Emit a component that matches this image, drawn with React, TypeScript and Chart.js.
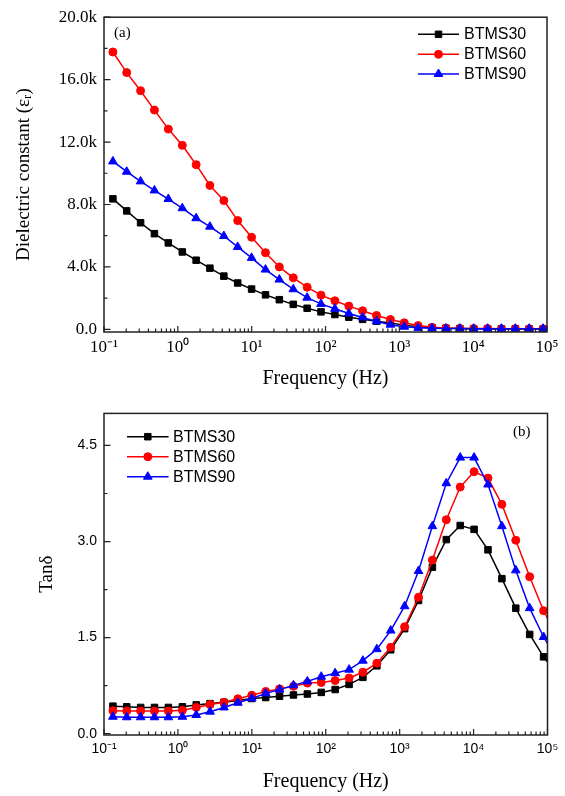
import React, { useEffect, useRef } from 'react';
import { Chart, registerables } from 'chart.js';
import { drawPoint } from 'chart.js/helpers';

Chart.register(...registerables);

// ---------- data ----------
const frequencies = [
  0.132, 0.203, 0.313, 0.482, 0.743, 1.15, 1.77, 2.72, 4.2, 6.47, 9.98, 15.4, 23.7, 36.6, 56.4, 86.9,
  134, 207, 318, 491, 757, 1167, 1799, 2773, 4276, 6592, 10160, 15670, 24150, 37240, 57410, 88510, 136500,
];

const epsBTMS30 = [
  8360, 7590, 6830, 6130, 5540, 4960, 4430, 3920, 3410, 2970, 2580, 2210, 1900, 1600, 1350, 1120,
  950, 780, 640, 520, 400, 270, 160, 100, 70, 50, 40, 40, 30, 30, 30, 30, 30,
];
const epsBTMS60 = [
  17770, 16450, 15290, 14050, 12830, 11790, 10550, 9220, 8250, 6970, 5900, 4910, 4000, 3300, 2700, 2190,
  1830, 1490, 1190, 890, 630, 420, 240, 130, 80, 60, 50, 50, 40, 40, 40, 40, 40,
];
const epsBTMS90 = [
  10760, 10100, 9480, 8900, 8350, 7760, 7120, 6580, 5980, 5280, 4580, 3830, 3190, 2570, 2030, 1630,
  1320, 1020, 760, 510, 300, 170, 100, 70, 50, 50, 40, 40, 40, 40, 40, 40, 40,
];

const tanBTMS30 = [
  0.43, 0.42, 0.41, 0.41, 0.41, 0.42, 0.45, 0.47, 0.49, 0.52, 0.55, 0.565, 0.585, 0.605, 0.62, 0.645,
  0.69, 0.77, 0.88, 1.06, 1.31, 1.64, 2.08, 2.6, 3.03, 3.25, 3.19, 2.87, 2.42, 1.96, 1.55, 1.2, 0.91,
];
const tanBTMS60 = [
  0.36, 0.355, 0.355, 0.355, 0.355, 0.365, 0.41, 0.455, 0.49, 0.545, 0.6, 0.66, 0.7, 0.74, 0.79, 0.8,
  0.83, 0.87, 0.96, 1.1, 1.35, 1.67, 2.13, 2.71, 3.34, 3.85, 4.09, 3.99, 3.58, 3.02, 2.45, 1.92, 1.5,
];
const tanBTMS90 = [
  0.265, 0.257, 0.257, 0.257, 0.257, 0.265, 0.293, 0.344, 0.41, 0.483, 0.55, 0.63, 0.688, 0.755, 0.817, 0.89,
  0.945, 1.0, 1.14, 1.32, 1.61, 1.99, 2.54, 3.24, 3.91, 4.31, 4.31, 3.89, 3.24, 2.55, 1.96, 1.51, 1.15,
];

const seriesNames = ['BTMS30', 'BTMS60', 'BTMS90'];
const seriesColors = ['#000000', '#ff0000', '#0000ff'];
const seriesMarkers = ['rect', 'circle', 'triangle'];
const seriesRadius = [4.6, 4, 5];

const xTickValues = [0.1, 1, 10, 100, 1000, 10000, 100000];
const xTickLabels = ['10⁻¹', '10⁰', '10¹', '10²', '10³', '10⁴', '10⁵'];
const epsTickValues = [0, 4000, 8000, 12000, 16000, 20000];
const epsTickLabels = ['0.0', '4.0k', '8.0k', '12.0k', '16.0k', '20.0k'];
const epsMinorTicks = [2000, 6000, 10000, 14000, 18000];
const tanTickValues = [0, 1.5, 3.0, 4.5];
const tanTickLabels = ['0.0', '1.5', '3.0', '4.5'];
const tanMinorTicks = [0.75, 2.25, 3.75];

const SERIF = '"Liberation Serif", "Times New Roman", serif';
const SANS = '"Liberation Sans", Arial, sans-serif';

function makeDatasets(series: number[][]) {
  return series.map((vals, i) => ({
    label: seriesNames[i],
    data: frequencies.map((f, j) => ({ x: f, y: vals[j] })),
    borderColor: seriesColors[i],
    backgroundColor: seriesColors[i],
    pointBackgroundColor: seriesColors[i],
    pointBorderColor: seriesColors[i],
    pointStyle: seriesMarkers[i],
    pointRadius: seriesRadius[i],
    pointBorderWidth: 1,
    borderWidth: 1.5,
    tension: 0,
    order: 3 - i,
  }));
}

function framePlugin(cfg: any) {
  return {
    id: 'frame' + cfg.id,
    afterDatasetsDraw(chart: any) {
      const ctx = chart.ctx;
      const { left, right, top, bottom } = chart.chartArea;
      const xs = chart.scales.x;
      const ys = chart.scales.y;
      ctx.save();
      ctx.strokeStyle = '#222';
      ctx.lineWidth = 1.5;
      ctx.strokeRect(left, top, right - left, bottom - top);
      ctx.lineWidth = 1.2;
      ctx.beginPath();
      xTickValues.forEach((v) => {
        const p = xs.getPixelForValue(v);
        ctx.moveTo(p, bottom);
        ctx.lineTo(p, bottom - 6);
      });
      xTickValues.slice(0, -1).forEach((d) => {
        for (let m = 2; m <= 9; m++) {
          const p = xs.getPixelForValue(d * m);
          ctx.moveTo(p, bottom);
          ctx.lineTo(p, bottom - 3.5);
        }
      });
      cfg.yMajor.forEach((v: number) => {
        const p = ys.getPixelForValue(v);
        ctx.moveTo(left, p);
        ctx.lineTo(left + 6.5, p);
      });
      cfg.yMinor.forEach((v: number) => {
        const p = ys.getPixelForValue(v);
        ctx.moveTo(left, p);
        ctx.lineTo(left + 3.5, p);
      });
      ctx.stroke();

      // panel tag
      ctx.fillStyle = '#000';
      ctx.font = '15px ' + SERIF;
      ctx.textBaseline = 'middle';
      ctx.textAlign = 'left';
      ctx.fillText(cfg.tag, cfg.tagX, cfg.tagY);

      // legend
      ctx.font = '16px ' + SANS;
      seriesNames.forEach((name, i) => {
        const yy = cfg.legendRows[i];
        ctx.strokeStyle = seriesColors[i];
        ctx.fillStyle = seriesColors[i];
        ctx.lineWidth = 1.5;
        ctx.beginPath();
        ctx.moveTo(cfg.legendX1, yy);
        ctx.lineTo(cfg.legendX2, yy);
        ctx.stroke();
        ctx.lineWidth = 1;
        drawPoint(ctx, { pointStyle: seriesMarkers[i], radius: seriesRadius[i], rotation: 0, borderWidth: 1 }, (cfg.legendX1 + cfg.legendX2) / 2, yy);
        ctx.fillStyle = '#000';
        ctx.fillText(name, cfg.legendTextX, yy + 0.5);
      });
      ctx.restore();
    },
  };
}

function xScale(fontFamily: string, fontSize: number, height: number, labelPad: number, titlePad: number) {
  return {
    type: 'logarithmic',
    min: 0.1,
    max: 100000,
    grid: { display: false, drawTicks: false },
    border: { display: false },
    afterBuildTicks: (s: any) => {
      s.ticks = xTickValues.map((v) => ({ value: v }));
    },
    afterFit: (s: any) => {
      s.height = height;
    },
    ticks: {
      autoSkip: false,
      maxRotation: 0,
      padding: labelPad,
      color: '#000',
      font: { family: fontFamily, size: fontSize },
      callback: (v: number) => {
        const idx = xTickValues.indexOf(v);
        return idx >= 0 ? xTickLabels[idx] : '';
      },
    },
    title: {
      display: true,
      text: 'Frequency (Hz)',
      color: '#000',
      font: { family: SERIF, size: 20 },
      padding: { top: 0, bottom: titlePad },
    },
  };
}

function yScale(opts: any) {
  return {
    type: 'linear',
    min: opts.min,
    max: opts.max,
    grid: { display: false, drawTicks: false },
    border: { display: false },
    afterBuildTicks: (s: any) => {
      s.ticks = opts.values.map((v: number) => ({ value: v }));
    },
    afterFit: (s: any) => {
      s.width = 104;
    },
    ticks: {
      autoSkip: false,
      padding: 7,
      color: '#000',
      font: { family: opts.fontFamily, size: opts.fontSize },
      callback: (v: number) => {
        const idx = opts.values.indexOf(v);
        return idx >= 0 ? opts.labels[idx] : '';
      },
    },
    title: {
      display: true,
      text: opts.title,
      color: '#000',
      font: { family: SERIF, size: 19 },
      padding: { top: opts.titlePad, bottom: 0 },
    },
  };
}

function App() {
  const refA = useRef<HTMLCanvasElement | null>(null);
  const refB = useRef<HTMLCanvasElement | null>(null);

  useEffect(() => {
    const chartA = new Chart(refA.current as HTMLCanvasElement, {
      type: 'line',
      data: { datasets: makeDatasets([epsBTMS30, epsBTMS60, epsBTMS90]) as any },
      options: {
        responsive: false,
        animation: false,
        layout: { padding: { top: 15, right: 18, left: 0, bottom: 0 } },
        plugins: { legend: { display: false }, tooltip: { enabled: false } },
        scales: {
          x: xScale(SERIF, 17, 66, 5, 7) as any,
          y: yScale({
            min: -170,
            max: 20000,
            values: epsTickValues,
            labels: epsTickLabels,
            fontFamily: SERIF,
            fontSize: 17,
            title: 'Dielectric constant (εᵣ)',
            titlePad: 13,
          }) as any,
        },
      },
      plugins: [
        framePlugin({
          id: 'a',
          yMajor: epsTickValues,
          yMinor: epsMinorTicks,
          tag: '(a)',
          tagX: 114,
          tagY: 33,
          legendX1: 418,
          legendX2: 459,
          legendTextX: 464,
          legendRows: [34.3, 54.3, 74],
        }),
      ],
    });

    const chartB = new Chart(refB.current as HTMLCanvasElement, {
      type: 'line',
      data: { datasets: makeDatasets([tanBTMS30, tanBTMS60, tanBTMS90]) as any },
      options: {
        responsive: false,
        animation: false,
        layout: { padding: { top: 11, right: 17.5, left: 0, bottom: 0 } },
        plugins: { legend: { display: false }, tooltip: { enabled: false } },
        scales: {
          x: xScale(SANS, 14, 61, 6, 2) as any,
          y: yScale({
            min: -0.02,
            max: 5.0,
            values: tanTickValues,
            labels: tanTickLabels,
            fontFamily: SANS,
            fontSize: 14,
            title: 'Tanδ',
            titlePad: 36,
          }) as any,
        },
      },
      plugins: [
        framePlugin({
          id: 'b',
          yMajor: tanTickValues,
          yMinor: tanMinorTicks,
          tag: '(b)',
          tagX: 513,
          tagY: 34,
          legendX1: 127,
          legendX2: 168.6,
          legendTextX: 173,
          legendRows: [38.7, 58.7, 78.7],
        }),
      ],
    });

    return () => {
      chartA.destroy();
      chartB.destroy();
    };
  }, []);

  return (
    <div style={{ position: 'absolute', left: 0, top: 0, width: 565, height: 796, background: '#fff' }}>
      <canvas ref={refA} width={565} height={398} style={{ position: 'absolute', left: 0, top: 0, display: 'block' }} />
      <canvas ref={refB} width={565} height={398} style={{ position: 'absolute', left: 0, top: 398, display: 'block' }} />
    </div>
  );
}

export default App;
